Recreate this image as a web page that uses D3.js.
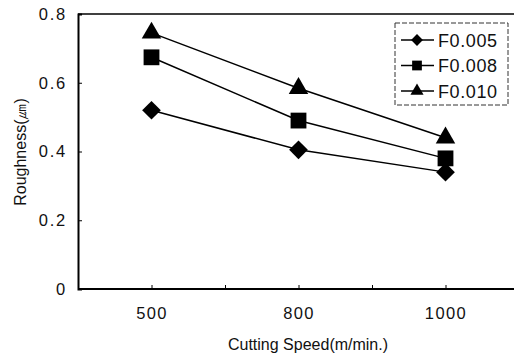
<html>
  <head>
    <script src="https://d3js.org/d3.v7.min.js"></script>
    <style>
      body { margin: 0; background: white; }
      text { font-family: "Liberation Sans", Arial, sans-serif; fill: #111; }
    </style>
  </head>
  <body>
    <svg width="514" height="356" id="chart"></svg>
    <script>
      // data
      const speeds = [500, 800, 1000];
      const speedPos = [0, 2, 4]; // speeds sit on every other tick
      const seriesNames = ["F0.005", "F0.008", "F0.010"];
      const f005 = [0.52, 0.405, 0.34];
      const f008 = [0.674, 0.49, 0.38];
      const f010 = [0.745, 0.584, 0.44];
      const yTicks = [0, 0.2, 0.4, 0.6, 0.8];

      const series = [
        { name: seriesNames[0], values: f005, symbol: d3.symbolSquare, rot: 45, size: 175, lsize: 70 },
        { name: seriesNames[1], values: f008, symbol: d3.symbolSquare, rot: 0, size: 250, lsize: 95 },
        { name: seriesNames[2], values: f010, symbol: d3.symbolTriangle, rot: 0, size: 165, lsize: 75 },
      ];

      const svg = d3.select("svg#chart");
      const margins = { top: 14, left: 78, bottom: 67 };

      const xScale = d3.scaleLinear().domain([-1, 5]).range([78, 519]);
      const yScale = d3.scaleLinear().domain([0, 0.8]).range([289, 14]);

      // frame (right side runs off the picture)
      svg.append("line")
        .attr("x1", 78).attr("y1", 14).attr("x2", 514).attr("y2", 14)
        .style("stroke", "black").style("stroke-width", 1.5);

      // y axis
      const axisLeft = d3.axisLeft(yScale)
        .tickValues(yTicks)
        .tickSize(-4)
        .tickPadding(11)
        .tickFormat((d) => (d === 0 ? "0" : d3.format(".1f")(d)));
      const gy = svg.append("g")
        .attr("transform", `translate(${margins.left}, 0)`)
        .call(axisLeft);
      gy.select(".domain").style("stroke-width", 2);
      gy.selectAll("text")
        .style("font-size", "16.5px")
        .style("letter-spacing", "1.8px");

      // x axis
      const axisBottom = d3.axisBottom(xScale)
        .tickValues([0, 1, 2, 3, 4])
        .tickSize(-4)
        .tickPadding(18)
        .tickFormat((d) => {
          const i = speedPos.indexOf(d);
          return i >= 0 ? speeds[i] : "";
        });
      const gx = svg.append("g")
        .attr("transform", `translate(0, ${yScale(0)})`)
        .call(axisBottom);
      gx.select(".domain").attr("d", "M78,0H514").style("stroke-width", 2);
      gx.selectAll("text")
        .style("font-size", "16.5px")
        .style("letter-spacing", "1.4px");

      // axis titles
      svg.append("text")
        .attr("x", 308).attr("y", 350)
        .attr("text-anchor", "middle")
        .style("font-size", "16px")
        .text("Cutting Speed(m/min.)");

      svg.append("text")
        .attr("transform", "translate(26, 152) rotate(-90)")
        .attr("text-anchor", "middle")
        .style("font-size", "16px")
        .text("Roughness(㎛)");

      // lines and markers
      const line = d3.line()
        .x((d, i) => xScale(speedPos[i]))
        .y((d) => yScale(d));

      series.forEach((s) => {
        svg.append("path")
          .attr("d", line(s.values))
          .attr("fill", "none")
          .style("stroke", "black")
          .style("stroke-width", 1.5);
        s.values.forEach((v, i) => {
          svg.append("path")
            .attr("d", d3.symbol().type(s.symbol).size(s.size)())
            .attr("transform", `translate(${xScale(speedPos[i])}, ${yScale(v)}) rotate(${s.rot})`)
            .attr("fill", "black");
        });
      });

      // legend
      const legend = svg.append("g");
      legend.append("rect")
        .attr("x", 395).attr("y", 23).attr("width", 113).attr("height", 82)
        .attr("fill", "white")
        .style("stroke", "#333")
        .style("stroke-dasharray", "5,2");
      series.forEach((s, i) => {
        const ly = 40 + i * 25.5;
        legend.append("line")
          .attr("x1", 401).attr("x2", 434).attr("y1", ly).attr("y2", ly)
          .style("stroke", "black").style("stroke-width", 1.5);
        legend.append("path")
          .attr("d", d3.symbol().type(s.symbol).size(s.lsize)())
          .attr("transform", `translate(417, ${ly}) rotate(${s.rot})`)
          .attr("fill", "black");
        legend.append("text")
          .attr("x", 438).attr("y", ly + 6.5)
          .style("font-size", "18px")
          .style("letter-spacing", "0.6px")
          .text(s.name);
      });
    </script>
  </body>
</html>
